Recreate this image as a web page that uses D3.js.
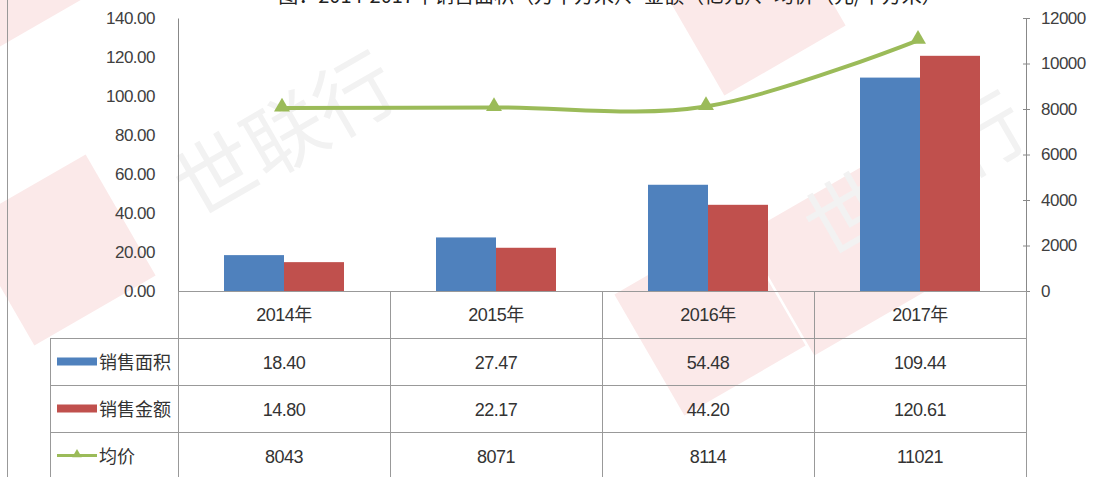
<!DOCTYPE html>
<html>
<head>
<meta charset="utf-8">
<script src="https://cdnjs.cloudflare.com/ajax/libs/d3/7.8.5/d3.min.js"></script>
<style>
  body { margin: 0; background: #fff; }
  svg text { font-family: "Liberation Sans", "Noto Sans CJK SC", sans-serif; fill: #333; }
</style>
</head>
<body>
<div id="chart"></div>
<script>
// data
const years = ["2014年", "2015年", "2016年", "2017年"]
const area = [18.40, 27.47, 54.48, 109.44]     // 销售面积
const amount = [14.80, 22.17, 44.20, 120.61]   // 销售金额
const price = [8043, 8071, 8114, 11021]        // 均价
const leftTicks = [0, 20, 40, 60, 80, 100, 120, 140]
const rightTicks = [0, 2000, 4000, 6000, 8000, 10000, 12000]

const W = 1111, H = 477
const plotL = 178, plotR = 1026, plotT = 18, plotB = 291
const rowY = [291, 338, 385, 432, 479]

const svg = d3.select("#chart").append("svg")
    .attr("width", W).attr("height", H)

// faint watermarks
const wm = svg.append("g")
const pink = [[-60, -110], [680, -70], [-10, 180], [770, 190], [640, 250]]
pink.forEach(function(p) {
  wm.append("rect")
    .attr("x", p[0]).attr("y", p[1]).attr("width", 140).attr("height", 140)
    .attr("transform", "rotate(-30," + (p[0] + 70) + "," + (p[1] + 70) + ")")
    .attr("fill", "#fbe9e9")
})
const wmText = [[300, 160], [930, 200]]
wmText.forEach(function(p) {
  wm.append("text")
    .attr("x", p[0]).attr("y", p[1])
    .attr("transform", "rotate(-30," + p[0] + "," + p[1] + ")")
    .attr("text-anchor", "middle")
    .style("font-size", "80px").style("font-family", "Noto Sans CJK SC")
    .style("fill", "#f2f2f2")
    .text("世联行")
})

// title, mostly cut off above the frame
svg.append("text")
    .attr("x", 610).attr("y", 3)
    .attr("text-anchor", "middle")
    .style("font-size", "20px").style("font-family", "Noto Sans CJK SC").style("fill", "#222")
    .text("图：2014-2017年销售面积（万平方米）、金额（亿元）、均价（元/平方米）")

// chart frame left edge
svg.append("line").attr("x1", 7.5).attr("x2", 7.5).attr("y1", 0).attr("y2", H)
    .attr("stroke", "#999")

const x = d3.scaleBand().domain(years).range([plotL, plotR]).padding(0)
const xs = d3.scaleBand().domain(["area", "amount"]).range([0, 120])
const yL = d3.scaleLinear().domain([0, 140]).range([plotB, plotT])
const yR = d3.scaleLinear().domain([0, 12000]).range([plotB, plotT])

const blue = "#4f81bd", red = "#c0504d", green = "#9bbb59"

// left axis
const gl = svg.append("g").attr("transform", "translate(" + plotL + ",0)")
    .call(d3.axisLeft(yL).tickValues(leftTicks).tickSize(0).tickPadding(23).tickFormat(d3.format(".2f")))
gl.select(".domain").attr("stroke", "#888")
gl.selectAll("text").style("font-size", "17px").style("fill", "#404040").style("letter-spacing", "-0.5px")

// right axis
const gr = svg.append("g").attr("transform", "translate(" + plotR + ",0)")
    .call(d3.axisRight(yR).tickValues(rightTicks).tickSize(4).tickPadding(11).tickFormat(d3.format("d")))
gr.select(".domain").attr("stroke", "#888")
gr.selectAll(".tick line").attr("stroke", "#888").attr("x1", -3)
gr.selectAll("text").style("font-size", "17px").style("fill", "#404040").style("letter-spacing", "-0.5px")

// bars
const bars = svg.append("g")
years.forEach(function(yr, i) {
  const x0 = x(yr) + x.bandwidth() / 2 - 60
  bars.append("rect")
    .attr("x", x0 + xs("area")).attr("width", xs.bandwidth())
    .attr("y", yL(area[i])).attr("height", plotB - yL(area[i]))
    .attr("fill", blue)
  bars.append("rect")
    .attr("x", x0 + xs("amount")).attr("width", xs.bandwidth())
    .attr("y", yL(amount[i])).attr("height", plotB - yL(amount[i]))
    .attr("fill", red)
})

// line
const cx = function(d, i) { return x(years[i]) + x.bandwidth() / 2 - 2 }
svg.append("path")
    .datum(price)
    .attr("d", d3.line().x(cx).y(function(d) { return yR(d) }).curve(d3.curveCatmullRom.alpha(0.5)))
    .attr("fill", "none").attr("stroke", green).attr("stroke-width", 4)

const tri = d3.symbol().type(d3.symbolTriangle).size(110)
svg.selectAll(".mk").data(price).enter().append("path")
    .attr("class", "mk")
    .attr("d", tri)
    .attr("transform", function(d, i) { return "translate(" + cx(d, i) + "," + (yR(d) - 1) + ")" })
    .attr("fill", green)

// data table
const grid = svg.append("g").attr("stroke", "#999").attr("stroke-width", 1)
grid.append("line").attr("x1", plotL).attr("x2", plotR).attr("y1", rowY[0] + 0.5).attr("y2", rowY[0] + 0.5)
rowY.slice(1).forEach(function(y) {
  grid.append("line").attr("x1", 50).attr("x2", plotR).attr("y1", y + 0.5).attr("y2", y + 0.5)
})
grid.append("line").attr("x1", 50.5).attr("x2", 50.5).attr("y1", rowY[1]).attr("y2", H)
years.forEach(function(yr) {
  grid.append("line").attr("x1", x(yr) + 0.5).attr("x2", x(yr) + 0.5).attr("y1", rowY[0]).attr("y2", H)
})
grid.append("line").attr("x1", plotR + 0.5).attr("x2", plotR + 0.5).attr("y1", rowY[0]).attr("y2", H)

// header
svg.selectAll(".hd").data(years).enter().append("text")
    .attr("class", "hd")
    .attr("x", function(d) { return x(d) + x.bandwidth() / 2 })
    .attr("y", (rowY[0] + rowY[1]) / 2 + 6)
    .attr("text-anchor", "middle")
    .style("font-size", "18px").style("letter-spacing", "-0.5px")
    .text(function(d) { return d })

const rows = [
  { name: "销售面积", vals: area.map(d3.format(".2f")), color: blue, type: "bar" },
  { name: "销售金额", vals: amount.map(d3.format(".2f")), color: red, type: "bar" },
  { name: "均价", vals: price.map(String), color: green, type: "line" }
]
rows.forEach(function(r, j) {
  const cy = (rowY[j + 1] + rowY[j + 2]) / 2
  if (r.type === "bar") {
    svg.append("rect").attr("x", 57).attr("y", cy - 4).attr("width", 40).attr("height", 8).attr("fill", r.color)
  } else {
    svg.append("line").attr("x1", 57).attr("x2", 97).attr("y1", cy).attr("y2", cy)
        .attr("stroke", r.color).attr("stroke-width", 3)
    svg.append("path").attr("d", d3.symbol().type(d3.symbolTriangle).size(40))
        .attr("transform", "translate(77," + (cy - 1) + ")").attr("fill", r.color)
  }
  svg.append("text").attr("x", 99).attr("y", cy + 7)
      .style("font-size", "18px").style("font-family", "Noto Sans CJK SC")
      .text(r.name)
  r.vals.forEach(function(v, i) {
    svg.append("text")
        .attr("x", x(years[i]) + x.bandwidth() / 2)
        .attr("y", cy + 7)
        .attr("text-anchor", "middle")
        .style("font-size", "18px").style("letter-spacing", "-0.5px")
        .text(v)
  })
})
</script>
</body>
</html>
